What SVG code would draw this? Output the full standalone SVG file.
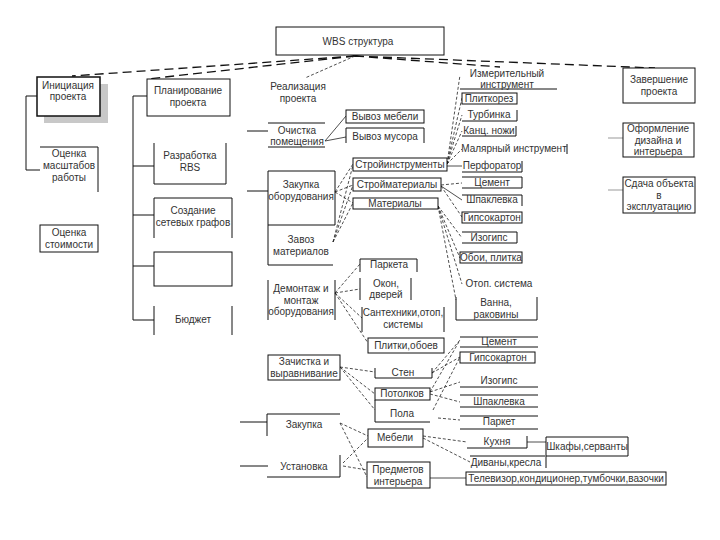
<svg xmlns="http://www.w3.org/2000/svg" width="720" height="540" viewBox="0 0 720 540">
<style>
.b{fill:#fff;stroke:#111;stroke-width:1}
.p{fill:none;stroke:#111;stroke-width:1}
.g{fill:none;stroke:#999;stroke-width:1}
.s{fill:none;stroke:#222;stroke-width:0.8}
.d{fill:none;stroke:#222;stroke-width:0.8;stroke-dasharray:3,2}
.k{fill:none;stroke:#111;stroke-width:1.3;stroke-dasharray:9,5}
text{font-family:"Liberation Sans",Arial,sans-serif;font-size:10px;fill:#333;text-anchor:middle}
</style>
<rect width="720" height="540" fill="#fff"/>
<g id="connectors">
<path class="k" d="M355,56 L72,76 M355,56 L147,79 M355,56 L500,67 M355,56 L655,68"/>
<path class="d" d="M355,56 L305,78"/>
<path class="p" d="M26,96 H37 M26,96 V170 H40"/>
<path class="p" d="M133,96 V320 M133,96 H147 M133,166 H154 M133,215 H154 M133,266 H154 M133,320 H154"/>
<path class="p" d="M247,131 H268 M247,191 H268 M240,422 H267 M240,466 H268"/>
<path class="g" d="M608,138 H623 M608,190 H623"/>
<path class="s" d="M325,141 L346,116 M325,141 L346,137"/>
<path class="d" d="M335,192 L353,164 M335,192 L353,185 M335,192 L353,203 M333,242 L353,165 M333,242 L353,185 M333,242 L353,203"/>
<path class="d" d="M447,164 L460,75 M447,164 L462,98 M447,164 L462,115 M447,164 L462,131 M447,164 L462,149"/>
<path class="s" d="M447,166 L462,166 M441,186 L462,200"/>
<path class="d" d="M441,185 L462,183 M441,186 L462,217"/>
<path class="d" d="M438,206 L462,238 M438,206 L460,258 M438,206 L462,284 M438,206 L456,300"/>
<path class="d" d="M335,293 L360,264 M335,293 L360,289 M335,293 L362,318 M335,293 L368,343"/>
<path class="d" d="M340,367 L375,372 M340,367 L375,394 M340,367 L375,410"/>
<path class="d" d="M340,423 L368,436 M340,423 L367,477 M343,463 L368,438 M343,466 L367,470"/>
<path class="d" d="M432,373 L460,340 M432,373 L460,357 M430,392 L460,340 M430,392 L460,382 M430,394 L460,402 M433,410 L460,357 M438,418 L460,420"/>
<path class="d" d="M423,436 L467,442 M423,438 L470,462"/>
<path class="s" d="M430,478 L466,478 M527,442 H546"/>
</g>
<g id="wbs"><rect class="b" x="276" y="27" width="168" height="28"/><text x="358" y="45">WBS структура</text></g>
<g id="init"><rect x="44" y="84" width="64" height="39" fill="#c8c8c8"/><rect class="b" x="37" y="77" width="63" height="39" style="stroke-width:1.5"/><text x="68" y="89">Инициация</text><text x="68" y="100">проекта</text></g>
<g id="scope"><path class="p" d="M40,147 H98 V192"/><text x="69" y="157">Оценка</text><text x="69" y="169">масштабов</text><text x="69" y="181">работы</text></g>
<g id="cost"><rect class="b" x="40" y="225" width="58" height="27"/><text x="69" y="236">Оценка</text><text x="69" y="248">стоимости</text></g>
<g id="plan"><rect class="b" x="147" y="79" width="83" height="37"/><text x="188" y="94">Планирование</text><text x="188" y="106">проекта</text></g>
<g id="rbs"><path class="p" d="M154,143 V184 H226 V143"/><text x="190" y="159">Разработка</text><text x="190" y="171">RBS</text></g>
<g id="net"><path class="p" d="M154,238 V198 H232 V238"/><text x="193" y="214">Создание</text><text x="193" y="226">сетевых графов</text></g>
<g id="empty"><rect class="b" x="154" y="252" width="78" height="34"/></g>
<g id="budget"><path class="p" d="M154,306 V335 M232,306 V335"/><text x="193" y="323">Бюджет</text></g>
<g id="real"><text x="298" y="90">Реализация</text><text x="298" y="102">проекта</text></g>
<g id="clean"><path class="p" d="M268,123 H325 M268,147 H325"/><text x="297" y="134">Очистка</text><text x="297" y="145">помещения</text></g>
<g id="furn-out"><rect class="b" x="346" y="110" width="78" height="13"/><text x="385" y="120">Вывоз мебели</text></g>
<g id="trash-out"><path class="p" d="M346,143 V128 H424 V143"/><text x="385" y="140">Вывоз мусора</text></g>
<g id="buy-eq"><path class="p" d="M268,225 V171 H335 V225 H268"/><text x="301" y="188">Закупка</text><text x="301" y="200">оборудования</text></g>
<g id="deliver"><path class="p" d="M268,225 V265 H333"/><text x="301" y="243">Завоз</text><text x="301" y="255">материалов</text></g>
<g id="tools"><rect class="b" x="353" y="158" width="94" height="13"/><text x="400" y="168">Стройинструменты</text></g>
<g id="bmat"><rect class="b" x="353" y="178" width="88" height="13"/><text x="397" y="188">Стройматериалы</text></g>
<g id="mat"><rect class="b" x="353" y="198" width="85" height="11"/><text x="395" y="207">Материалы</text></g>
<g id="meas"><path class="p" d="M460,89 H557"/><text x="507" y="77">Измерительный</text><text x="507" y="88">инструмент</text></g>
<g id="tile-cut"><rect class="b" x="462" y="93" width="55" height="11"/><text x="489" y="102">Плиткорез</text></g>
<g id="turb"><path class="p" d="M462,121 H517 V110"/><text x="489" y="118">Турбинка</text></g>
<g id="knife"><path class="p" d="M462,136 H516 V126"/><text x="489" y="134">Канц. ножи</text></g>
<g id="paint-t"><path class="p" d="M567,144 V154"/><text x="514" y="152">Малярный инструмент</text></g>
<g id="perf"><path class="p" d="M462,172 H522 V161"/><text x="492" y="169">Перфоратор</text></g>
<g id="cem1"><path class="p" d="M462,177 H522 V188 M462,188 H522"/><text x="492" y="186">Цемент</text></g>
<g id="putty1"><path class="p" d="M462,195 H522 V206"/><text x="492" y="203">Шпаклевка</text></g>
<g id="gk1"><rect class="b" x="462" y="212" width="60" height="11"/><text x="492" y="221">Гипсокартон</text></g>
<g id="izo1"><path class="p" d="M462,232 H517 V243 H462"/><text x="489" y="241">Изогипс</text></g>
<g id="wall1"><rect class="b" x="460" y="252" width="62" height="11"/><text x="491" y="261">Обои, плитка</text></g>
<g id="heat"><text x="499" y="287">Отоп. система</text></g>
<g id="bath"><path class="p" d="M456,297 V320 H537 V297"/><text x="496" y="306">Ванна,</text><text x="496" y="318">раковины</text></g>
<g id="finish"><rect class="b" x="623" y="68" width="72" height="35"/><text x="659" y="83">Завершение</text><text x="659" y="95">проекта</text></g>
<g id="design"><rect class="b" x="623" y="123" width="71" height="34"/><text x="658" y="132">Оформление</text><text x="658" y="144">дизайна и</text><text x="658" y="155">интерьера</text></g>
<g id="handover"><rect class="b" x="623" y="177" width="72" height="36"/><text x="659" y="187">Сдача объекта</text><text x="659" y="199">в</text><text x="659" y="210">эксплуатацию</text></g>
<g id="dismount"><path class="p" d="M268,280 V320 M335,280 V320"/><text x="301" y="292">Демонтаж и</text><text x="301" y="304">монтаж</text><text x="301" y="315">оборудования</text></g>
<g id="parq1"><path class="p" d="M360,272 V259 H417 V272"/><text x="389" y="268">Паркета</text></g>
<g id="win"><path class="p" d="M360,278 V300 M411,278 V300"/><text x="386" y="287">Окон,</text><text x="386" y="298">дверей</text></g>
<g id="plumb"><path class="p" d="M362,307 V332 M444,307 V332"/><text x="403" y="316">Сантехники,отоп,</text><text x="403" y="328">системы</text></g>
<g id="tiles"><rect class="b" x="368" y="338" width="76" height="15"/><text x="406" y="349">Плитки,обоев</text></g>
<g id="strip"><rect class="b" x="268" y="355" width="72" height="25"/><text x="304" y="365">Зачистка и</text><text x="304" y="377">выравнивание</text></g>
<g id="walls"><path class="p" d="M375,368 V378 H432 V368"/><text x="403" y="376">Стен</text></g>
<g id="ceil"><rect class="b" x="375" y="388" width="55" height="12"/><text x="402" y="397">Потолков</text></g>
<g id="floor"><path class="p" d="M375,400 V422 H430"/><text x="402" y="417">Пола</text></g>
<g id="buy"><path class="p" d="M267,436 V414 H340"/><text x="304" y="428">Закупка</text></g>
<g id="install"><path class="p" d="M340,455 V477 H267"/><text x="304" y="470">Установка</text></g>
<g id="furn"><rect class="b" x="368" y="429" width="55" height="18"/><text x="395" y="441">Мебели</text></g>
<g id="items"><rect class="b" x="367" y="462" width="63" height="26"/><text x="398" y="473">Предметов</text><text x="398" y="485">интерьера</text></g>
<g id="cem2"><path class="p" d="M460,337 H538 M460,347 H538"/><text x="499" y="345">Цемент</text></g>
<g id="gk2"><rect class="b" x="460" y="352" width="75" height="11"/><text x="498" y="361">Гипсокартон</text></g>
<g id="izo2"><path class="p" d="M460,387 H538"/><text x="499" y="384">Изогипс</text></g>
<g id="putty2"><path class="p" d="M460,395 H538 M460,407 H538"/><text x="499" y="405">Шпаклевка</text></g>
<g id="parq2"><path class="p" d="M460,416 H538 M460,429 H538"/><text x="499" y="425">Паркет</text></g>
<g id="kitchen"><path class="p" d="M467,448 H527 V436"/><text x="497" y="445">Кухня</text></g>
<g id="wardrobe"><path class="p" d="M546,468 V437 H628 V456 H546"/><text x="587" y="450">Шкафы,серванты</text></g>
<g id="sofa"><path class="p" d="M470,456 H545"/><text x="506" y="466">Диваны,кресла</text></g>
<g id="tv"><rect class="b" x="466" y="472" width="200" height="13"/><text x="566" y="482">Телевизор,кондиционер,тумбочки,вазочки</text></g>
</svg>
